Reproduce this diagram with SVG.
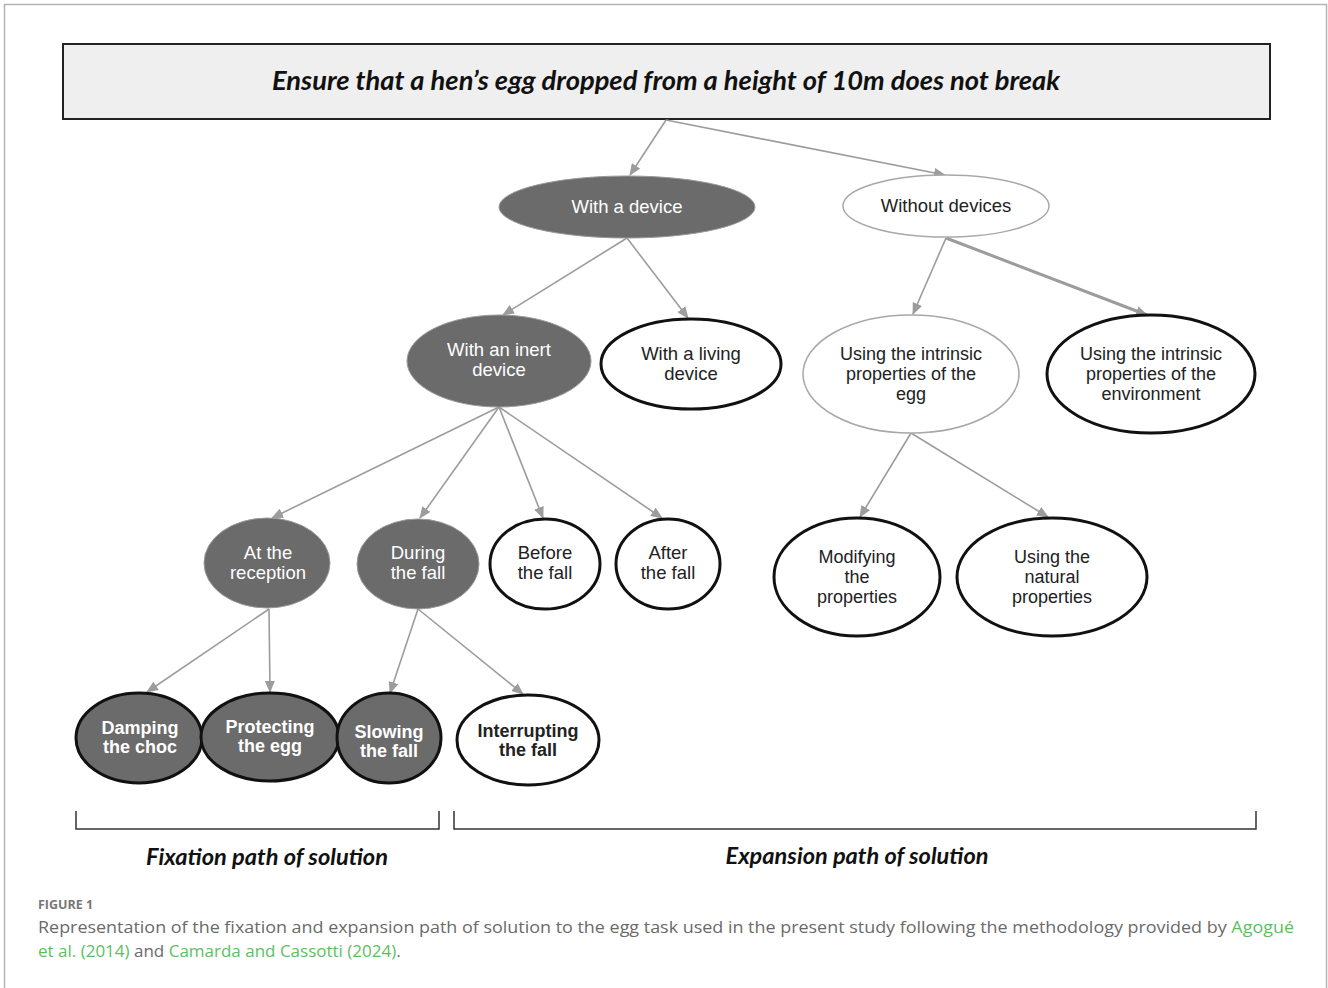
<svg xmlns="http://www.w3.org/2000/svg" width="1328" height="988" viewBox="0 0 1328 988">
<defs>
<style>
.frame{fill:none;stroke:#b4b4b4;stroke-width:1.5}
.fill{fill:#6b6b6b;stroke:#9a9a9a;stroke-width:1}
.fillb{fill:#6b6b6b;stroke:#111;stroke-width:3}
.thin{fill:#fff;stroke:#a8a8a8;stroke-width:1.5}
.thick{fill:#fff;stroke:#111;stroke-width:3}
.t{font-family:"Liberation Sans",Arial,sans-serif;font-size:18.5px;text-anchor:middle}
.s{font-size:18px}
.w{fill:#fff}
.k{fill:#222}
.b{font-weight:bold;font-size:18px}
.conn line{stroke:#9c9c9c;stroke-width:1.6;marker-end:url(#ah)}
.title{font-family:Lato,"Open Sans",sans-serif;font-weight:bold;font-style:italic;font-size:26px;fill:#111;text-anchor:middle}
.path{font-family:Lato,"Open Sans",sans-serif;font-weight:bold;font-style:italic;font-size:22px;fill:#111;text-anchor:middle}
.brk{fill:none;stroke:#333;stroke-width:1.5}
.cap{font-family:"Open Sans","Noto Sans",sans-serif;font-size:17px;fill:#6a6a6a}
.fig{font-family:"Open Sans","Noto Sans",sans-serif;font-size:12.5px;fill:#777;font-weight:bold}
.g{fill:#5cbf5f}
</style>
<marker id="ah" markerUnits="userSpaceOnUse" markerWidth="12" markerHeight="10" refX="11" refY="5" orient="auto" viewBox="0 0 12 10">
<path d="M0,0 L12,5 L0,10 z" fill="#9c9c9c"/>
</marker>
</defs>
<rect width="1328" height="988" fill="#fff"/>
<path class="frame" d="M4.5,988 V4.5 H1326.5 V988"/>

<g id="title">
<rect x="63" y="44" width="1207" height="75" fill="#efefef" stroke="#222" stroke-width="2"/>
<text class="title" x="666" y="90" textLength="788" lengthAdjust="spacingAndGlyphs">Ensure that a hen’s egg dropped from a height of 10m does not break</text>
</g>

<g id="connectors" class="conn">
<line x1="666" y1="120" x2="630" y2="175"/>
<line x1="666" y1="120" x2="945" y2="175"/>
<line x1="627" y1="238" x2="503" y2="315"/>
<line x1="627" y1="238" x2="688" y2="318"/>
<line x1="946" y1="238" x2="913" y2="314"/>
<line x1="946" y1="238" x2="1147" y2="315" style="stroke-width:3"/>
<line x1="499" y1="407" x2="272" y2="518"/>
<line x1="499" y1="407" x2="420" y2="518"/>
<line x1="499" y1="407" x2="543" y2="518"/>
<line x1="499" y1="407" x2="662" y2="518"/>
<line x1="269" y1="609" x2="147" y2="692"/>
<line x1="269" y1="609" x2="270" y2="692"/>
<line x1="418" y1="609" x2="390" y2="693"/>
<line x1="418" y1="609" x2="523" y2="694"/>
<line x1="911" y1="433" x2="860" y2="517"/>
<line x1="911" y1="433" x2="1048" y2="517"/>
</g>

<g id="with-a-device">
<ellipse class="fill" cx="627" cy="207" rx="128" ry="31"/>
<text class="t w" x="627" y="213">With a device</text>
</g>
<g id="without-devices">
<ellipse class="thin" cx="946" cy="206" rx="103" ry="31"/>
<text class="t k" x="946" y="212">Without devices</text>
</g>
<g id="inert-device">
<ellipse class="fill" cx="499" cy="361" rx="92" ry="46"/>
<text class="t w" x="499" y="356">With an inert</text>
<text class="t w" x="499" y="376">device</text>
</g>
<g id="living-device">
<ellipse class="thick" cx="691" cy="364" rx="90" ry="45"/>
<text class="t k" x="691" y="360">With a living</text>
<text class="t k" x="691" y="380">device</text>
</g>
<g id="intrinsic-egg">
<ellipse class="thin" cx="911" cy="374" rx="108" ry="59"/>
<text class="t k s" x="911" y="360">Using the intrinsic</text>
<text class="t k s" x="911" y="380">properties of the</text>
<text class="t k s" x="911" y="400">egg</text>
</g>
<g id="intrinsic-env">
<ellipse class="thick" cx="1151" cy="374" rx="104" ry="59"/>
<text class="t k s" x="1151" y="360">Using the intrinsic</text>
<text class="t k s" x="1151" y="380">properties of the</text>
<text class="t k s" x="1151" y="400">environment</text>
</g>
<g id="at-reception">
<ellipse class="fill" cx="267" cy="563" rx="63" ry="45"/>
<text class="t w" x="268" y="559">At the</text>
<text class="t w" x="268" y="579">reception</text>
</g>
<g id="during-fall">
<ellipse class="fill" cx="418" cy="564" rx="61" ry="45"/>
<text class="t w" x="418" y="559">During</text>
<text class="t w" x="418" y="579">the fall</text>
</g>
<g id="before-fall">
<ellipse class="thick" cx="545" cy="564" rx="55" ry="45"/>
<text class="t k" x="545" y="559">Before</text>
<text class="t k" x="545" y="579">the fall</text>
</g>
<g id="after-fall">
<ellipse class="thick" cx="668" cy="564" rx="52" ry="45"/>
<text class="t k" x="668" y="559">After</text>
<text class="t k" x="668" y="579">the fall</text>
</g>
<g id="modifying">
<ellipse class="thick" cx="857" cy="577" rx="83" ry="59"/>
<text class="t k s" x="857" y="563">Modifying</text>
<text class="t k s" x="857" y="583">the</text>
<text class="t k s" x="857" y="603">properties</text>
</g>
<g id="natural">
<ellipse class="thick" cx="1052" cy="577" rx="95" ry="59"/>
<text class="t k s" x="1052" y="563">Using the</text>
<text class="t k s" x="1052" y="583">natural</text>
<text class="t k s" x="1052" y="603">properties</text>
</g>
<g id="damping">
<ellipse class="fillb" cx="139" cy="738" rx="63" ry="45"/>
<text class="t w b" x="140" y="734">Damping</text>
<text class="t w b" x="140" y="753">the choc</text>
</g>
<g id="protecting">
<ellipse class="fillb" cx="270" cy="737" rx="69" ry="44"/>
<text class="t w b" x="270" y="733">Protecting</text>
<text class="t w b" x="270" y="752">the egg</text>
</g>
<g id="slowing">
<ellipse class="fillb" cx="389" cy="738" rx="52" ry="45"/>
<text class="t w b" x="389" y="738">Slowing</text>
<text class="t w b" x="389" y="757">the fall</text>
</g>
<g id="interrupting">
<ellipse class="thick" cx="528" cy="740" rx="71" ry="45"/>
<text class="t k b" x="528" y="737">Interrupting</text>
<text class="t k b" x="528" y="756">the fall</text>
</g>

<g id="brackets">
<path class="brk" d="M76,811 V829 H439 V811"/>
<path class="brk" d="M454,811 V829 H1256 V811"/>
<text class="path" x="267" y="865" textLength="242" lengthAdjust="spacingAndGlyphs">Fixation path of solution</text>
<text class="path" x="857" y="864" textLength="263" lengthAdjust="spacingAndGlyphs">Expansion path of solution</text>
</g>

<g id="caption">
<text class="fig" x="38" y="909">FIGURE 1</text>
<text class="cap" x="38" y="933" textLength="1256" lengthAdjust="spacingAndGlyphs">Representation of the fixation and expansion path of solution to the egg task used in the present study following the methodology provided by <tspan class="g">Agogué</tspan></text>
<text class="cap" x="38" y="957"><tspan class="g">et al. (2014)</tspan> and <tspan class="g">Camarda and Cassotti (2024)</tspan>.</text>
</g>
</svg>
